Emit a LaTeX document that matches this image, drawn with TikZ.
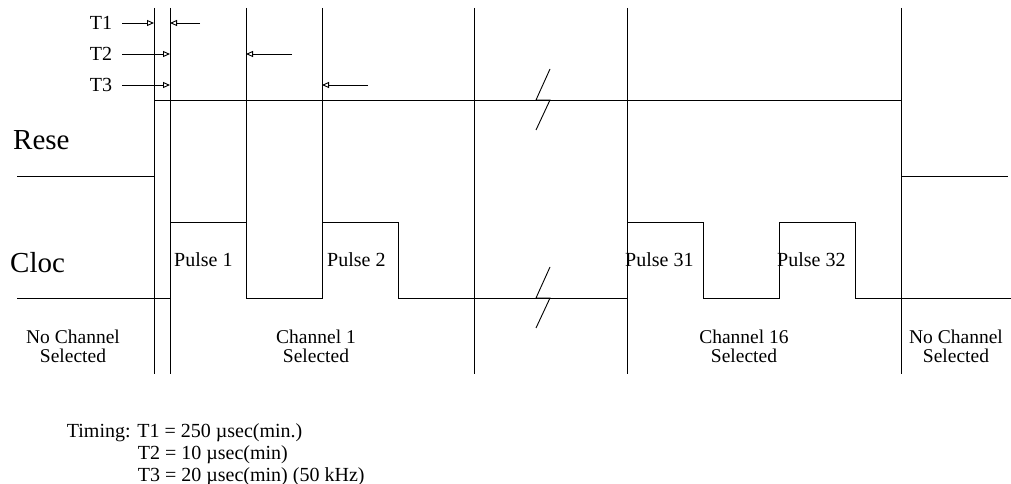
\documentclass[tikz,border=0pt]{standalone}
\usepackage{fontspec}
\setmainfont{Liberation Serif}
\usetikzlibrary{arrows.meta}

\begin{document}
\begin{tikzpicture}[x=1pt,y=-1pt,
  sig/.style={draw, line width=0.9pt},
  tip/.style={-{Triangle[open,length=7pt,width=6pt]}, line width=0.9pt},
  big/.style={font=\fontsize{29}{30}\selectfont, inner sep=0pt, anchor=base west},
  lab/.style={font=\fontsize{20}{22}\selectfont, inner sep=0pt, anchor=base west},
  tlab/.style={font=\fontsize{20}{22}\selectfont, inner ysep=0pt, inner xsep=10pt},
  chan/.style={font=\fontsize{19.5}{19}\selectfont, align=center, inner sep=0pt}]
\useasboundingbox (0,0) rectangle (1011,484);
% edges
\coordinate (v1) at (154,8);
\coordinate (v2) at (170,8);
\coordinate (v3) at (246,8);
\coordinate (v4) at (322,8);
\coordinate (v5) at (474,8);
\coordinate (v6) at (627,8);
\coordinate (v7) at (901,8);
\draw[sig] (v1) -- (154,374);
\draw[sig] (v2) -- (170,374);
\draw[sig] (v3) -- (246,222);
\draw[sig] (v4) -- (322,222);
\draw[sig] (v5) -- (474,374);
\draw[sig] (v6) -- (627,374);
\draw[sig] (v7) -- (901,374);
% reset
\draw[sig] (17,176) -- (154,176) -- (154,100) -- (901,100) -- (901,176) -- (1008,176);
% clock
\draw[sig] (17,298) -- (170,298) -- (170,222) -- (246,222) -- (246,298)
  -- (322,298) -- (322,222) -- (398,222) -- (398,298) -- (627,298)
  -- (627,222) -- (703,222) -- (703,298) -- (779,298) -- (779,222)
  -- (855,222) -- (855,298) -- (1011,298);
% breaks
\draw[sig] (550,69) -- (536,100) -- (550,100) -- (536,130);
\draw[sig] (550,267) -- (536,298) -- (550,298) -- (536,328);
% timing marks
\node[tlab] (t1) at (101,23) {T1};
\node[tlab] (t2) at (101,54) {T2};
\node[tlab] (t3) at (101,85) {T3};
\coordinate (e1) at (200,23);
\coordinate (e2) at (292,54);
\coordinate (e3) at (368,85);
\draw[tip] (t1.east) -- (t1.east -| v1);
\draw[tip] (e1) -- (e1 -| v2);
\draw[tip] (t2.east) -- (t2.east -| v2);
\draw[tip] (e2) -- (e2 -| v3);
\draw[tip] (t3.east) -- (t3.east -| v2);
\draw[tip] (e3) -- (e3 -| v4);
% signal names
\node[big] (rst) at (13,149) {Rese};
\node[big] (clk) at (10,272) {Cloc};
% pulses
\node[lab] (p1) at (174,266) {Pulse 1};
\node[lab] (p2) at (327,266) {Pulse 2};
\node[lab] (p31) at (625,266) {Pulse 31};
\node[lab] (p32) at (777,266) {Pulse 32};
% channels
\node[chan] (c0) at (73,346) {No Channel\\Selected};
\node[chan] (c1) at (316,346) {Channel 1\\Selected};
\node[chan] (c16) at (744,346) {Channel 16\\Selected};
\node[chan] (c00) at (956,346) {No Channel\\Selected};
% timing
\node[lab] (tm) at (66.7,437) {Timing: T1 = 250 µsec(min.)};
\node[lab] (tm2) at (137.7,459) {T2 = 10 µsec(min)};
\node[lab] (tm3) at (137.7,481.5) {T3 = 20 µsec(min) (50 kHz)};
\end{tikzpicture}
\end{document}
